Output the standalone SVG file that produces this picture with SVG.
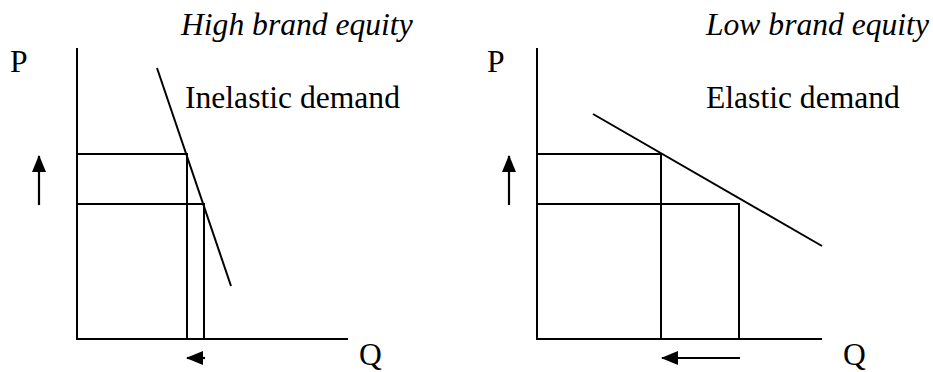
<svg xmlns="http://www.w3.org/2000/svg" width="933" height="372" viewBox="0 0 933 372">
<defs>
<style>
.ln{stroke:#000;stroke-width:2;fill:none;stroke-linecap:butt}
.t{font-family:"Liberation Serif","Times New Roman",serif;font-size:31.6px;fill:#000}
.i{font-style:italic}
.ar{stroke:#000;stroke-width:2.2;fill:none;marker-end:url(#ah)}
</style>
<marker id="ah" markerUnits="userSpaceOnUse" markerWidth="17" markerHeight="14" refX="16" refY="7" orient="auto" viewBox="0 0 17 14">
<path d="M0,0 L17,7 L0,14 z" fill="#000"/>
</marker>
</defs>
<g id="left-panel">
<text class="t i" x="181" y="35">High brand equity</text>
<text class="t" x="10" y="72">P</text>
<text class="t" x="185" y="108">Inelastic demand</text>
<text class="t" x="359" y="365">Q</text>
<g id="left-axes"><path class="ln" d="M77,48 V339 H348"/></g>
<g id="left-demand"><path class="ln" d="M157,68 L231,286"/></g>
<g id="left-rects"><path class="ln" d="M77,154 H187 V339 M77,204 H204 V339"/></g>
</g>
<g id="right-panel">
<text class="t i" x="706" y="35">Low brand equity</text>
<text class="t" x="487" y="72">P</text>
<text class="t" x="706" y="108">Elastic demand</text>
<text class="t" x="843" y="365">Q</text>
<g id="right-axes"><path class="ln" d="M537,48 V339 H822"/></g>
<g id="right-demand"><path class="ln" d="M593,114 L822,246"/></g>
<g id="right-rects"><path class="ln" d="M537,154 H661 V339 M537,204 H739 V339"/></g>
</g>
<g id="connectors">
<line class="ar" x1="39" y1="205" x2="39" y2="156"/>
<line class="ar" x1="205" y1="358" x2="187" y2="358"/>
<line class="ar" x1="509" y1="205" x2="509" y2="156"/>
<line class="ar" x1="740" y1="358" x2="662" y2="358"/>
</g>
</svg>
